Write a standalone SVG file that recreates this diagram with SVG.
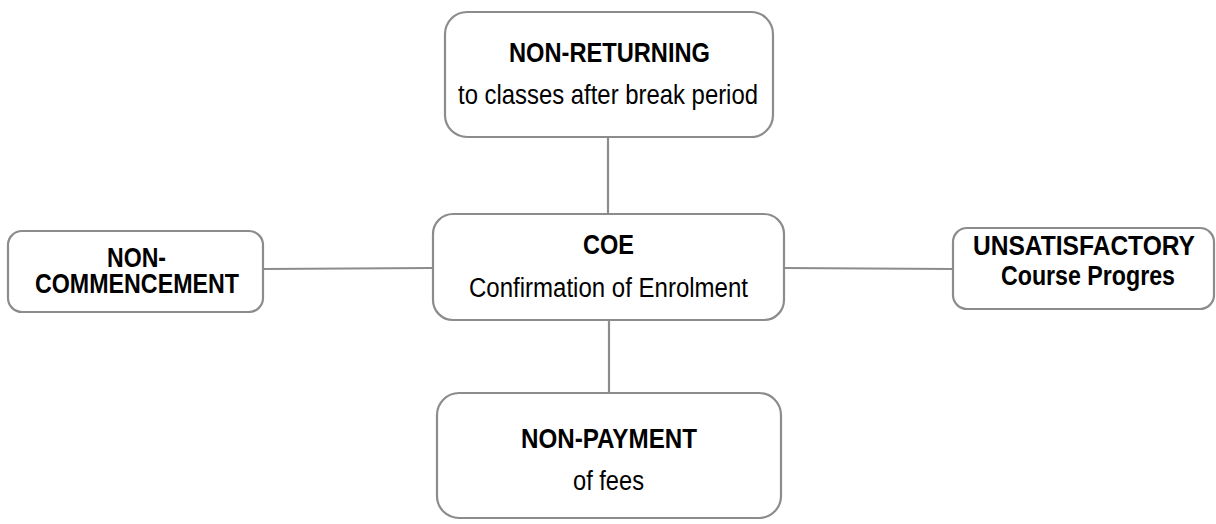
<svg xmlns="http://www.w3.org/2000/svg" width="1216" height="524" viewBox="0 0 1216 524">
  <style>
    .box { fill: #ffffff; stroke: #8c8c8c; stroke-width: 2.2; }
    .conn { stroke: #8c8c8c; stroke-width: 2.2; fill: none; }
    .b { font-family: "Liberation Sans", Arial, sans-serif; font-weight: bold; fill: #000; text-anchor: middle; }
    .r { font-family: "Liberation Sans", Arial, sans-serif; fill: #000; text-anchor: middle; }
  </style>
  <rect width="1216" height="524" fill="#ffffff"/>
  <g id="connectors">
    <line class="conn" x1="608" y1="137" x2="608" y2="214"/>
    <line class="conn" x1="263" y1="269" x2="433" y2="268"/>
    <line class="conn" x1="784" y1="268" x2="953" y2="269"/>
    <line class="conn" x1="609" y1="320" x2="609" y2="393"/>
  </g>
  <g id="node-nonreturning">
    <rect class="box" x="445" y="12" width="328" height="125" rx="22"/>
    <text class="b" x="609.5" y="62" font-size="28.5" textLength="201" lengthAdjust="spacingAndGlyphs">NON-RETURNING</text>
    <text class="r" x="608" y="104" font-size="27.5" textLength="300" lengthAdjust="spacingAndGlyphs">to classes after break period</text>
  </g>
  <g id="node-coe">
    <rect class="box" x="433" y="214" width="351" height="106" rx="20"/>
    <text class="b" x="608.5" y="254" font-size="28.5" textLength="51" lengthAdjust="spacingAndGlyphs">COE</text>
    <text class="r" x="608.5" y="297" font-size="27" textLength="279" lengthAdjust="spacingAndGlyphs">Confirmation of Enrolment</text>
  </g>
  <g id="node-noncommencement">
    <rect class="box" x="8" y="231" width="255" height="81" rx="14"/>
    <text class="b" x="136.5" y="267" font-size="27" textLength="59" lengthAdjust="spacingAndGlyphs">NON-</text>
    <text class="b" x="137" y="293" font-size="27" textLength="204" lengthAdjust="spacingAndGlyphs">COMMENCEMENT</text>
  </g>
  <g id="node-unsatisfactory">
    <rect class="box" x="953" y="228" width="261" height="81" rx="14"/>
    <text class="b" x="1084" y="255" font-size="27" textLength="222" lengthAdjust="spacingAndGlyphs">UNSATISFACTORY</text>
    <text class="b" x="1088" y="285" font-size="27" textLength="174" lengthAdjust="spacingAndGlyphs">Course Progres</text>
  </g>
  <g id="node-nonpayment">
    <rect class="box" x="437" y="393" width="344" height="125" rx="22"/>
    <text class="b" x="609" y="448" font-size="28" textLength="176" lengthAdjust="spacingAndGlyphs">NON-PAYMENT</text>
    <text class="r" x="608.5" y="490" font-size="27" textLength="71" lengthAdjust="spacingAndGlyphs">of fees</text>
  </g>
</svg>
